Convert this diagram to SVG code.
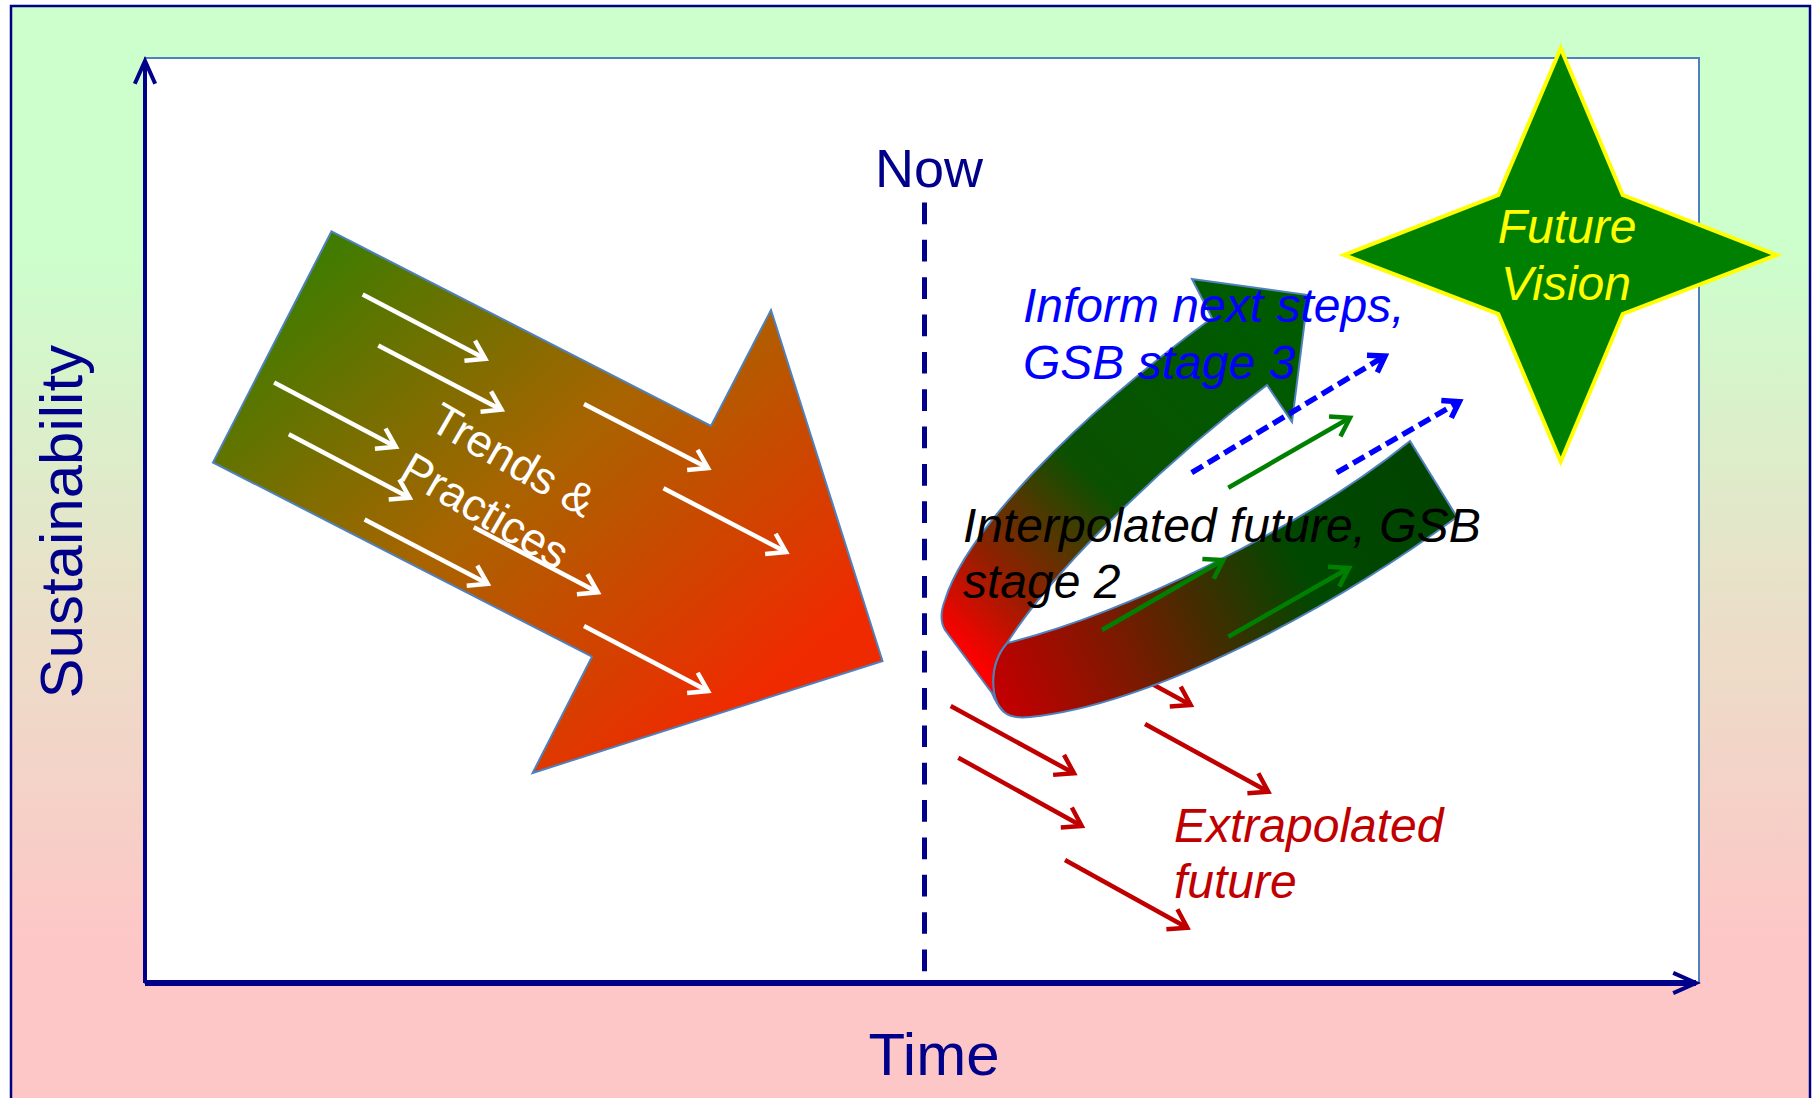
<svg xmlns="http://www.w3.org/2000/svg" width="1812" height="1098" viewBox="0 0 1812 1098">
<defs>
<style>
.t{font-family:"Liberation Sans",Arial,sans-serif}
.it{font-family:"Liberation Sans",Arial,sans-serif;font-style:italic;font-size:48px}
.wa{stroke:#fff;stroke-width:4.5;fill:none;marker-end:url(#mw)}
.ra{stroke:#C00000;stroke-width:4.5;fill:none;marker-end:url(#mr)}
.ga{stroke:#008000;stroke-width:4.5;fill:none;marker-end:url(#mg)}
.ba{stroke:#0000FF;stroke-width:5.5;fill:none;stroke-dasharray:13 6;marker-end:url(#mb)}
.ax{stroke:#00008B;fill:none;marker-end:url(#mn)}
.sh{stroke:#4F81BD;stroke-width:2;stroke-linejoin:miter}
</style>
<linearGradient id="bg" x1="0" y1="0" x2="0" y2="1">
<stop offset="0" stop-color="#CCFFCC"/>
<stop offset="0.22" stop-color="#CCFFCC"/>
<stop offset="0.55" stop-color="#EADFC8"/>
<stop offset="0.85" stop-color="#FDC7C7"/>
<stop offset="1" stop-color="#FDC7C7"/>
</linearGradient>
<linearGradient id="gTr" gradientUnits="userSpaceOnUse" x1="300" y1="250" x2="700" y2="740">
<stop offset="0" stop-color="#3A7D00"/>
<stop offset="0.5" stop-color="#A86400"/>
<stop offset="1" stop-color="#F02A00"/>
</linearGradient>
<linearGradient id="gUp" gradientUnits="userSpaceOnUse" x1="950" y1="640" x2="1250" y2="330">
<stop offset="0" stop-color="#FF0000"/>
<stop offset="0.2" stop-color="#902000"/>
<stop offset="0.33" stop-color="#5A3500"/>
<stop offset="0.5" stop-color="#0A5000"/>
<stop offset="1" stop-color="#005A00"/>
</linearGradient>
<linearGradient id="gLo" gradientUnits="userSpaceOnUse" x1="1000" y1="690" x2="1430" y2="480">
<stop offset="0" stop-color="#C00000"/>
<stop offset="0.27" stop-color="#7A1A00"/>
<stop offset="0.48" stop-color="#3A3000"/>
<stop offset="0.68" stop-color="#004800"/>
<stop offset="1" stop-color="#004400"/>
</linearGradient>
<marker id="mw" markerUnits="userSpaceOnUse" viewBox="-22 -14 26 28" refX="0" refY="0" markerWidth="26" markerHeight="28" orient="auto" overflow="visible"><path d="M-17.6,-11.4 L0,0 L-17.6,11.4" fill="none" stroke="#FFFFFF" stroke-width="4.5"/></marker>
<marker id="mr" markerUnits="userSpaceOnUse" viewBox="-22 -14 26 28" refX="0" refY="0" markerWidth="26" markerHeight="28" orient="auto" overflow="visible"><path d="M-17.6,-11.4 L0,0 L-17.6,11.4" fill="none" stroke="#C00000" stroke-width="4.5"/></marker>
<marker id="mg" markerUnits="userSpaceOnUse" viewBox="-22 -14 26 28" refX="0" refY="0" markerWidth="26" markerHeight="28" orient="auto" overflow="visible"><path d="M-17.6,-11.4 L0,0 L-17.6,11.4" fill="none" stroke="#008000" stroke-width="4.5"/></marker>
<marker id="mb" markerUnits="userSpaceOnUse" viewBox="-22 -14 26 28" refX="0" refY="0" markerWidth="26" markerHeight="28" orient="auto" overflow="visible"><path d="M-15,-10 L0,0 L-15,10" fill="none" stroke="#0000FF" stroke-width="5.5" stroke-dasharray="none"/></marker>
<marker id="mn" markerUnits="userSpaceOnUse" viewBox="-26 -14 30 28" refX="0" refY="0" markerWidth="30" markerHeight="28" orient="auto" overflow="visible"><path d="M-22.8,-10.2 L0,0 L-22.8,10.2" fill="none" stroke="#00008B" stroke-width="4"/></marker>
</defs>

<g id="background">
<rect x="11" y="6" width="1799" height="1100" fill="url(#bg)" stroke="#000080" stroke-width="2.5"/>
<rect x="145" y="58" width="1554" height="925" fill="#FFFFFF" stroke="#4F81BD" stroke-width="2"/>
</g>

<g id="axes">
<line class="ax" x1="145" y1="983" x2="145" y2="61" stroke-width="4"/>
<line class="ax" x1="145" y1="983" x2="1696" y2="983" stroke-width="6"/>
<text class="t" x="934" y="1075" font-size="60" fill="#00008B" text-anchor="middle">Time</text>
<text class="t" transform="translate(81.7,521.7) rotate(-90)" font-size="60" fill="#00008B" text-anchor="middle">Sustainability</text>
</g>

<g id="now">
<text class="t" x="929" y="187" font-size="54" fill="#00008B" text-anchor="middle">Now</text>
<line x1="924.5" y1="202.5" x2="924.5" y2="972" stroke="#00008B" stroke-width="5" stroke-dasharray="21.7 15.65"/>
</g>

<g id="trends">
<polygon class="sh" points="331.5,231.4 711,426 771,310 882.5,661 532.6,773 592,656.6 213,462.5" fill="url(#gTr)"/>
<line class="wa" x1="362.7" y1="294.5" x2="485.3" y2="358.8"/>
<line class="wa" x1="378.3" y1="345.4" x2="501.4" y2="409.7"/>
<line class="wa" x1="274.1" y1="382.5" x2="395.8" y2="446.8"/>
<line class="wa" x1="288.8" y1="434.2" x2="409.6" y2="497.7"/>
<line class="wa" x1="364.6" y1="519.6" x2="487.6" y2="583.8"/>
<line class="wa" x1="473.8" y1="527.2" x2="597.8" y2="592.3"/>
<line class="wa" x1="584" y1="404" x2="708" y2="468"/>
<line class="wa" x1="663.5" y1="488.2" x2="786" y2="552"/>
<line class="wa" x1="584" y1="626" x2="708" y2="691"/>
<g transform="translate(427,428) rotate(30)">
<text class="t" x="0" y="0" font-size="45" fill="#FFFFFF">Trends &amp;</text>
<text class="t" x="-1" y="58" font-size="45" fill="#FFFFFF">Practices</text>
</g>
</g>

<g id="extrapolated">
<line class="ra" x1="950.7" y1="706" x2="1074" y2="773.3"/>
<line class="ra" x1="958.3" y1="757.7" x2="1081.7" y2="826"/>
<line class="ra" x1="1065" y1="860" x2="1187.3" y2="927.7"/>
<line class="ra" x1="1145" y1="724" x2="1268.3" y2="791.7"/>
<line class="ra" x1="1068" y1="638" x2="1190.7" y2="705"/>
</g>

<g id="uturn">
<path class="sh" fill="url(#gLo)" d="M1007,643 C1120,615 1300,530 1410,441 L1457,517 C1330,610 1150,705 1030,717 Q1012,719 1004,712 C990,700 988,665 1007,643 Z"/>
<path class="sh" fill="url(#gUp)" d="M1308,295 L1292,422 L1267,385 C1180,450 1060,560 1007,643 C988,665 990,700 1004,712 Q997,705 992,693 L945,630 Q938,618 945,600 C966,532 1075,418 1212,318 L1192,279 Z"/>
</g>

<g id="connectors">
<line class="ga" x1="1228.3" y1="487.7" x2="1350" y2="417.7"/>
<line class="ga" x1="1102" y1="630" x2="1223.3" y2="560"/>
<line class="ga" x1="1228.3" y1="636.7" x2="1349" y2="568"/>
<line class="ba" x1="1191.7" y1="472.7" x2="1385" y2="356"/>
<line class="ba" x1="1336.7" y1="472.7" x2="1459.3" y2="401.7"/>
</g>

<g id="labels">
<text class="it" fill="#0000FF"><tspan x="1023" y="322">Inform next steps,</tspan><tspan x="1023" y="378.5">GSB stage 3</tspan></text>
<text class="it" fill="#000000"><tspan x="963" y="541.7">Interpolated future, GSB</tspan><tspan x="963" y="598.3">stage 2</tspan></text>
<text class="it" fill="#C00000"><tspan x="1174" y="841.7">Extrapolated</tspan><tspan x="1174" y="898.3">future</tspan></text>
</g>

<g id="vision">
<polygon points="1560.7,48.3 1622.7,195 1776.7,255 1622.7,314 1560.7,461.7 1498.3,314 1344,255 1498.3,195" fill="#008000" stroke="#FFFF00" stroke-width="4"/>
<text class="it" fill="#FFFF00" text-anchor="middle"><tspan x="1567" y="242.7">Future</tspan><tspan x="1566" y="300">Vision</tspan></text>
</g>
</svg>
